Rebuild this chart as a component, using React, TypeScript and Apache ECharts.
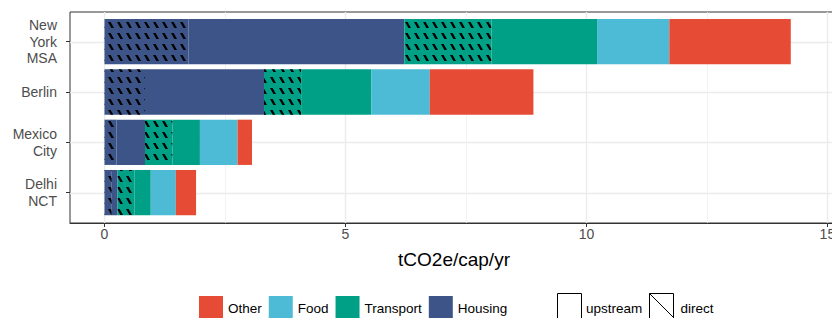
import React, { useEffect, useRef } from 'react';
import * as echarts from 'echarts';

// ---- data (tCO2e per capita per year) ----
const cities = ['New York MSA', 'Berlin', 'Mexico City', 'Delhi NCT'];
const housingDirect = [1.74, 0.84, 0.25, 0.15];
const housingUpstream = [4.48, 2.47, 0.59, 0.12];
const transportDirect = [1.81, 0.77, 0.57, 0.35];
const transportUpstream = [2.19, 1.46, 0.57, 0.34];
const food = [1.5, 1.21, 0.78, 0.52];
const other = [2.52, 2.15, 0.3, 0.42];

const xTicks = [0, 5, 10, 15];
const xMinorTicks = [2.5, 7.5, 12.5];
const colorLegend = ['Other', 'Food', 'Transport', 'Housing'];
const xTitle = 'tCO2e/cap/yr';

const X_MIN = -0.716;
const X_MAX = 15.22;

const COLORS = {
  Housing: '#3C5488',
  Transport: '#00A087',
  Food: '#4DBBD5',
  Other: '#E64B35',
};

const FONT = '"Liberation Sans", Arial, Helvetica, sans-serif';
const NONE = 'rgba(0,0,0,0)';

const hatch = {
  symbol: 'path://M0,0 L2.6,0 L6,6 L3.4,6 Z',
  symbolSize: 1,
  symbolKeepAspect: false,
  color: '#000000',
  backgroundColor: NONE,
  dashArrayX: [6, 3],
  dashArrayY: [6, 5],
  rotation: 0,
};

export default function App() {
  const ref = useRef<HTMLDivElement>(null);

  useEffect(() => {
    document.body.style.margin = '0';
    if (!ref.current) return;
    const chart = echarts.init(ref.current, undefined, { renderer: 'svg' });

    const barSeries = (name: string, data: number[], color: string, decal?: any) => ({
      name,
      type: 'bar',
      stack: 'total',
      xAxisIndex: 2,
      yAxisIndex: 1,
      barWidth: '90%',
      data,
      itemStyle: decal ? { color, decal } : { color },
      emphasis: { disabled: true },
    });

    const hiddenTick = (values: number[]) => ({ show: false, length: 0, customValues: values, lineStyle: { color: NONE, width: 0 } });

    const option: any = {
      animation: false,
      grid: [
        { left: 70, top: 12, width: 768, height: 211, show: true, borderColor: '#333333', borderWidth: 1, backgroundColor: NONE },
        { left: 70, top: 16.55, width: 768, height: 201.2 },
      ],
      xAxis: [
        {
          gridIndex: 0,
          type: 'value',
          min: X_MIN,
          max: X_MAX,
          position: 'bottom',
          axisLine: { show: true, onZero: false, lineStyle: { color: '#333333', width: 1 } },
          axisTick: { show: true, length: 4, customValues: xTicks, lineStyle: { color: '#333333', width: 1 } },
          axisLabel: { customValues: xTicks, fontSize: 14, color: '#4D4D4D', margin: 4, fontFamily: FONT },
          splitLine: { show: true, lineStyle: { color: '#EBEBEB', width: 1.4 } },
          name: xTitle,
          nameLocation: 'middle',
          nameGap: 27,
          nameTextStyle: { fontSize: 19, color: '#000000', fontFamily: FONT },
        },
        {
          gridIndex: 0,
          type: 'value',
          min: X_MIN,
          max: X_MAX,
          position: 'bottom',
          axisLine: { show: false, onZero: false },
          axisTick: hiddenTick(xMinorTicks),
          axisLabel: { show: false, customValues: xMinorTicks },
          splitLine: { show: true, lineStyle: { color: '#EFEFEF', width: 0.8 } },
        },
        { gridIndex: 1, type: 'value', min: X_MIN, max: X_MAX, show: false, axisLine: { onZero: false } },
      ],
      yAxis: [
        {
          gridIndex: 0,
          type: 'value',
          min: 0.4,
          max: cities.length + 0.6,
          inverse: true,
          position: 'left',
          axisLine: { show: false, onZero: false },
          axisTick: hiddenTick(cities.map((_, i) => i + 1)),
          axisLabel: { show: false, customValues: cities.map((_, i) => i + 1) },
          splitLine: { show: true, lineStyle: { color: '#EBEBEB', width: 1.4 } },
        },
        {
          gridIndex: 1,
          type: 'category',
          data: cities,
          inverse: true,
          position: 'left',
          axisLine: { show: false, onZero: false },
          axisTick: { show: true, alignWithLabel: true, length: 4, lineStyle: { color: '#333333', width: 1 } },
          axisLabel: {
            formatter: (v: string) => v.split(' ').join('\n'),
            fontSize: 14,
            lineHeight: 16.7,
            color: '#4D4D4D',
            margin: 13,
            align: 'right',
            fontFamily: FONT,
          },
          splitLine: { show: false },
        },
      ],
      legend: {
        data: colorLegend,
        left: 199,
        top: 296,
        itemWidth: 24,
        itemHeight: 24,
        itemGap: 7,
        icon: 'rect',
        padding: 0,
        selectedMode: false,
        textStyle: { fontSize: 13.5, color: '#000000', fontFamily: FONT },
      },
      graphic: [
        { type: 'rect', shape: { x: 557.5, y: 293.5, width: 24, height: 26 }, style: { fill: '#ffffff', stroke: '#000000', lineWidth: 1 } },
        { type: 'text', x: 586, y: 308, style: { text: 'upstream', fontSize: 13.5, fontFamily: FONT, fill: '#000000', verticalAlign: 'middle' } },
        { type: 'rect', shape: { x: 649.5, y: 293.5, width: 24, height: 26 }, style: { fill: '#ffffff', stroke: '#000000', lineWidth: 1 } },
        { type: 'line', shape: { x1: 649.5, y1: 293.5, x2: 673.5, y2: 317.5 }, style: { stroke: '#000000', lineWidth: 1 } },
        { type: 'text', x: 680.5, y: 308, style: { text: 'direct', fontSize: 13.5, fontFamily: FONT, fill: '#000000', verticalAlign: 'middle' } },
      ],
      series: [
        barSeries('Housing direct', housingDirect, COLORS.Housing, hatch),
        barSeries('Housing', housingUpstream, COLORS.Housing),
        barSeries('Transport direct', transportDirect, COLORS.Transport, hatch),
        barSeries('Transport', transportUpstream, COLORS.Transport),
        barSeries('Food', food, COLORS.Food),
        barSeries('Other', other, COLORS.Other),
      ],
    };

    chart.setOption(option);
    return () => chart.dispose();
  }, []);

  return (
    <div style={{ width: 832, height: 318, overflow: 'hidden', position: 'relative', background: '#ffffff' }}>
      <div ref={ref} style={{ width: 900, height: 318 }} />
    </div>
  );
}
